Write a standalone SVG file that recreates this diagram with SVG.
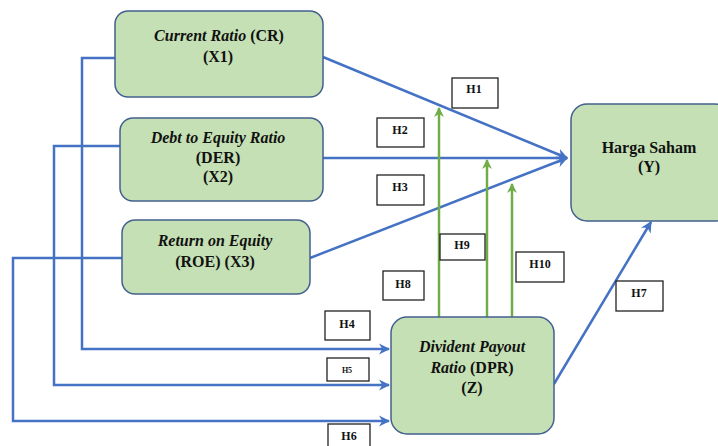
<svg xmlns="http://www.w3.org/2000/svg" width="718" height="446" viewBox="0 0 718 446" font-family="'Liberation Serif', 'Times New Roman', serif">
<defs>
<style>
.node{fill:#c5e0b4;stroke:#41608f;stroke-width:1.5}
.b{fill:none;stroke:#4472c4;stroke-width:2.5}
.g{fill:none;stroke:#70ad47;stroke-width:2.5}
.lb{fill:#fff;stroke:#222;stroke-width:1.3}
</style>
<marker id="ab" viewBox="0 0 10 10" refX="9" refY="5" markerWidth="4.5" markerHeight="4.5" orient="auto" markerUnits="strokeWidth"><path d="M0,0 L10,5 L0,10 L3,5 z" fill="#4472c4"/></marker>
<marker id="ag" viewBox="0 0 10 10" refX="9" refY="5" markerWidth="4" markerHeight="4" orient="auto" markerUnits="strokeWidth"><path d="M0,0 L10,5 L0,10 L3,5 z" fill="#70ad47"/></marker>
</defs>
<rect width="718" height="446" fill="#fff"/>
<g id="connectors">
<path class="b" d="M323,57 L567,158" marker-end="url(#ab)"/>
<path class="b" d="M323,158 L567,158" marker-end="url(#ab)"/>
<path class="b" d="M310,258 L567,158" marker-end="url(#ab)"/>
<path class="b" d="M554,384 L651,222" marker-end="url(#ab)"/>
<path class="b" d="M120,58 L82,58 L82,349 L389,349" marker-end="url(#ab)"/>
<path class="b" d="M131,146 L54,146 L54,385 L389,385" marker-end="url(#ab)"/>
<path class="b" d="M122,258 L13,258 L13,421 L389,421" marker-end="url(#ab)"/>
<path class="g" d="M439,317 L439,108" marker-end="url(#ag)"/>
<path class="g" d="M487,317 L487,160" marker-end="url(#ag)"/>
<path class="g" d="M512,317 L512,184" marker-end="url(#ag)"/>
</g>
<g id="node-cr">
<rect class="node" x="115" y="11" width="208" height="86" rx="13"/>
<text x="219" y="41" style="font-family:'Liberation Serif',serif;font-size:16px;font-weight:bold" text-anchor="middle" fill="#111"><tspan font-style="italic">Current  Ratio</tspan> (CR)</text>
<text x="218" y="62" style="font-family:'Liberation Serif',serif;font-size:16px;font-weight:bold" text-anchor="middle" fill="#111">(X1)</text>
</g>
<g id="node-der">
<rect class="node" x="120" y="118" width="203" height="83" rx="13"/>
<text x="218" y="143" style="font-family:'Liberation Serif',serif;font-size:16px;font-weight:bold;font-style:italic" text-anchor="middle" fill="#111">Debt to Equity Ratio</text>
<text x="218" y="163" style="font-family:'Liberation Serif',serif;font-size:16px;font-weight:bold" text-anchor="middle" fill="#111">(DER)</text>
<text x="218" y="182" style="font-family:'Liberation Serif',serif;font-size:16px;font-weight:bold" text-anchor="middle" fill="#111">(X2)</text>
</g>
<g id="node-roe">
<rect class="node" x="122" y="220" width="188" height="74" rx="13"/>
<text x="215" y="246" style="font-family:'Liberation Serif',serif;font-size:16px;font-weight:bold;font-style:italic" text-anchor="middle" fill="#111">Return on Equity</text>
<text x="215" y="267" style="font-family:'Liberation Serif',serif;font-size:16px;font-weight:bold" text-anchor="middle" fill="#111">(ROE) (X3)</text>
</g>
<g id="node-y">
<rect class="node" x="571" y="104" width="160" height="117" rx="16"/>
<text x="649" y="153" style="font-family:'Liberation Serif',serif;font-size:16px;font-weight:bold" text-anchor="middle" fill="#111">Harga Saham</text>
<text x="649" y="172" style="font-family:'Liberation Serif',serif;font-size:16px;font-weight:bold" text-anchor="middle" fill="#111">(Y)</text>
</g>
<g id="node-dpr">
<rect class="node" x="391" y="317" width="163" height="117" rx="16"/>
<text x="472" y="352" style="font-family:'Liberation Serif',serif;font-size:16px;font-weight:bold;font-style:italic" text-anchor="middle" fill="#111">Divident Payout</text>
<text x="472" y="373" style="font-family:'Liberation Serif',serif;font-size:16px;font-weight:bold" text-anchor="middle" fill="#111"><tspan font-style="italic">Ratio</tspan> (DPR)</text>
<text x="472" y="393" style="font-family:'Liberation Serif',serif;font-size:16px;font-weight:bold" text-anchor="middle" fill="#111">(Z)</text>
</g>
<g id="labels">
<rect class="lb" x="452" y="78" width="46" height="30"/><text x="474" y="93" style="font-family:'Liberation Serif',serif;font-size:12px;font-weight:bold" text-anchor="middle" fill="#111">H1</text>
<rect class="lb" x="377" y="118" width="47" height="29"/><text x="400" y="134" style="font-family:'Liberation Serif',serif;font-size:12px;font-weight:bold" text-anchor="middle" fill="#111">H2</text>
<rect class="lb" x="377" y="175" width="47" height="30"/><text x="400" y="191" style="font-family:'Liberation Serif',serif;font-size:12px;font-weight:bold" text-anchor="middle" fill="#111">H3</text>
<rect class="lb" x="325" y="311" width="45" height="29"/><text x="347" y="328" style="font-family:'Liberation Serif',serif;font-size:12px;font-weight:bold" text-anchor="middle" fill="#111">H4</text>
<rect class="lb" x="327" y="358" width="42" height="23"/><text x="347" y="373" style="font-family:'Liberation Serif',serif;font-size:8px;font-weight:bold" text-anchor="middle" fill="#111">H5</text>
<rect class="lb" x="328" y="424" width="42" height="30"/><text x="349" y="440" style="font-family:'Liberation Serif',serif;font-size:12px;font-weight:bold" text-anchor="middle" fill="#111">H6</text>
<rect class="lb" x="616" y="281" width="47" height="30"/><text x="639" y="297" style="font-family:'Liberation Serif',serif;font-size:12px;font-weight:bold" text-anchor="middle" fill="#111">H7</text>
<rect class="lb" x="383" y="271" width="41" height="29"/><text x="403" y="288" style="font-family:'Liberation Serif',serif;font-size:12px;font-weight:bold" text-anchor="middle" fill="#111">H8</text>
<rect class="lb" x="440" y="234" width="45" height="26"/><text x="462" y="249" style="font-family:'Liberation Serif',serif;font-size:12px;font-weight:bold" text-anchor="middle" fill="#111">H9</text>
<rect class="lb" x="516" y="252" width="48" height="30"/><text x="540" y="268" style="font-family:'Liberation Serif',serif;font-size:12px;font-weight:bold" text-anchor="middle" fill="#111">H10</text>
</g>
</svg>
